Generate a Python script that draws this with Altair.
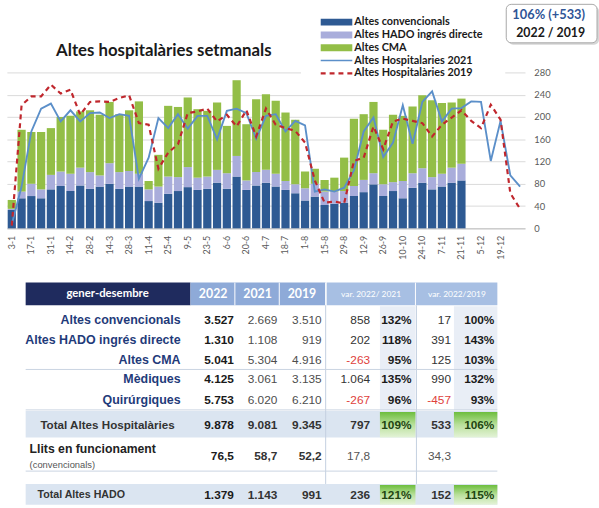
import altair as alt
import pandas as pd

# ---------------- data ----------------
weeks = ["3-1","10-1","17-1","24-1","31-1","7-2","14-2","21-2","28-2","7-3","14-3","21-3","28-3",
         "4-4","11-4","18-4","25-4","2-5","9-5","16-5","23-5","30-5","6-6","13-6","20-6","27-6",
         "4-7","11-7","18-7","25-7","1-8","8-8","15-8","22-8","29-8","5-9","12-9","19-9","26-9",
         "3-10","10-10","17-10","24-10","31-10","7-11","14-11","21-11","28-11","5-12","12-12",
         "19-12","26-12","2-1"]

conv = [33,54,58,54,70,76,67,77,71,75,80,71,75,75,49,46,62,67,74,69,71,82,71,93,69,77,82,75,69,63,
        50,57,42,44,46,58,65,79,58,67,54,73,82,70,75,82,86]
hado = [2,12,22,16,26,26,31,32,30,20,37,30,28,23,21,29,31,25,36,22,22,23,28,37,17,24,23,23,16,16,
        22,23,24,22,21,18,22,20,21,16,31,26,26,22,23,27,30]
cma = [16,111,93,103,84,98,104,101,111,109,110,104,109,130,15,57,127,126,125,123,118,121,85,136,101,
       131,136,131,123,116,30,27,21,25,60,121,118,128,98,121,117,120,131,138,127,117,117]

alt2021 = [7,75,174,215,224,192,212,192,207,208,198,205,202,89,127,198,180,205,179,202,202,160,211,
           215,207,161,202,205,174,193,185,66,70,66,73,104,174,199,128,154,221,152,227,246,192,215,
           216,228,227,121,193,95,75]
alt2019 = [5,221,237,237,258,242,249,204,227,228,227,234,239,189,186,107,136,151,207,210,215,192,204,
           183,212,165,215,186,180,175,154,86,46,48,45,121,127,183,142,192,197,193,189,165,186,199,
           212,193,180,222,195,63,35]

series_bar = ["Altes convencionals", "Altes HADO ingrés directe", "Altes CMA"]
line_names = ["Altes Hospitalaries 2021", "Altes Hospitalàries 2019"]
title_text = "Altes hospitalàries setmanals"
box_lines = ["106% (+533)", "2022 / 2019"]
y_ticks = [0, 40, 80, 120, 160, 200, 240, 280]

# table
header_cols = ["gener-desembre", "2022", "2021", "2019", "var. 2022/ 2021", "var. 2022/2019"]
row_labels = ["Altes convencionals", "Altes HADO ingrés directe", "Altes CMA", "Mèdiques",
              "Quirúrgiques", "Total Altes Hospitalàries", "Llits en funcionament", "Total Altes HADO"]
llits_sub = "(convencionals)"
v2022 = ["3.527", "1.310", "5.041", "4.125", "5.753", "9.878", "76,5", "1.379"]
v2021 = ["2.669", "1.108", "5.304", "3.061", "6.020", "9.081", "58,7", "1.143"]
v2019 = ["3.510", "919", "4.916", "3.135", "6.210", "9.345", "52,2", "991"]
d21 = ["858", "202", "-263", "1.064", "-267", "797", "17,8", "236"]
p21 = ["132%", "118%", "95%", "135%", "96%", "109%", "", "121%"]
d19 = ["17", "391", "125", "990", "-457", "533", "34,3", "152"]
p19 = ["100%", "143%", "103%", "132%", "93%", "106%", "", "115%"]

# ---------------- styles ----------------
C_DARK = "#2e5a93"
C_LIGHT = "#a9addb"
C_GREEN = "#93be47"
C_L21 = "#5b8fc9"
C_L19 = "#c0272d"
F_CHART = "Lato"
F_TAB = "Liberation Sans"
F_LAB = "Liberation Sans"

W, H = 525, 158

bars_df = pd.DataFrame([
    {"week": weeks[i], "serie": s, "value": v, "ord": k}
    for k, (s, vals) in enumerate(zip(series_bar, [conv, hado, cma]))
    for i, v in enumerate(vals)
])
lines_df = pd.DataFrame({"week": weeks, "a2021": alt2021, "a2019": alt2019})

xscale = alt.Scale(domain=weeks, paddingInner=0.16, paddingOuter=0.08)
yscale = alt.Scale(domain=[0, 280], nice=False)
xaxis = alt.Axis(values=weeks[0:51:2], labelAngle=270, labelFont=F_CHART, labelFontSize=9,
                 labelColor="#595959", domainColor="#bfbfbf", ticks=False, grid=False,
                 labelPadding=7, title=None)
yaxis = alt.Axis(orient="right", values=y_ticks, grid=True, gridColor="#d9d9d9", domain=False,
                 ticks=False, labelPadding=9, labelFont=F_CHART, labelFontSize=9.5,
                 labelColor="#595959", title=None)

X = alt.X("week:O", scale=xscale, axis=xaxis)

bars = alt.Chart(bars_df).mark_bar().encode(
    x=X,
    y=alt.Y("value:Q", stack="zero", scale=yscale, axis=yaxis),
    color=alt.Color("serie:N", scale=alt.Scale(domain=series_bar, range=[C_DARK, C_LIGHT, C_GREEN]), legend=None),
    order=alt.Order("ord:Q", sort="ascending"),
)
line21 = alt.Chart(lines_df).mark_line(color=C_L21, strokeWidth=1.9).encode(
    x=X, y=alt.Y("a2021:Q", scale=yscale, axis=yaxis))
line19 = alt.Chart(lines_df).mark_line(color=C_L19, strokeWidth=2.2, strokeDash=[5, 4]).encode(
    x=X, y=alt.Y("a2019:Q", scale=yscale, axis=yaxis))

one = alt.InlineData(values=[{"a": 1}])
deco = []
# title
deco.append(alt.Chart(one).mark_text(font=F_CHART, fontSize=17, fontWeight="bold", color="#1a1a1a",
                                     align="center", baseline="middle").encode(
    x=alt.value(159), y=alt.value(-22), text=alt.value(title_text)))
# legend background
deco.append(alt.Chart(one).mark_rect(color="white").encode(
    x=alt.value(298), x2=alt.value(505), y=alt.value(-64), y2=alt.value(9)))
leg_y = [-51, -38, -25, -12, 1]
leg_cols = [C_DARK, C_LIGHT, C_GREEN]
for i, name in enumerate(series_bar + line_names):
    yy = leg_y[i]
    if i < 3:
        deco.append(alt.Chart(one).mark_rect(color=leg_cols[i]).encode(
            x=alt.value(318), x2=alt.value(350), y=alt.value(yy - 3.5), y2=alt.value(yy + 3.5)))
    elif i == 3:
        deco.append(alt.Chart(one).mark_rule(color=C_L21, strokeWidth=1.5).encode(
            x=alt.value(318), x2=alt.value(350), y=alt.value(yy)))
    else:
        deco.append(alt.Chart(one).mark_rule(color=C_L19, strokeWidth=2.2, strokeDash=[5, 4]).encode(
            x=alt.value(318), x2=alt.value(350), y=alt.value(yy)))
    deco.append(alt.Chart(one).mark_text(font=F_CHART, fontSize=11, fontWeight="bold", color="#1a1a1a",
                                         align="left", baseline="middle").encode(
        x=alt.value(352), y=alt.value(yy), text=alt.value(name)))
# summary box
deco.append(alt.Chart(one).mark_rect(color="#d6d6d6", cornerRadius=5).encode(
    x=alt.value(508), x2=alt.value(600), y=alt.value(-67), y2=alt.value(-28)))
deco.append(alt.Chart(one).mark_rect(fill="white", stroke="#a8a8a8", strokeWidth=1, cornerRadius=5).encode(
    x=alt.value(506), x2=alt.value(598), y=alt.value(-69), y2=alt.value(-30)))
deco.append(alt.Chart(one).mark_text(font=F_CHART, fontSize=13, fontWeight="bold", color="#2f5597",
                                     align="center", baseline="middle").encode(
    x=alt.value(549), y=alt.value(-58), text=alt.value(box_lines[0])))
deco.append(alt.Chart(one).mark_text(font=F_CHART, fontSize=12.5, fontWeight="bold", color="#1a1a1a",
                                     align="center", baseline="middle").encode(
    x=alt.value(551), y=alt.value(-40), text=alt.value(box_lines[1])))

top = alt.layer(bars, line21, line19, *deco).properties(width=W, height=H)

# ---------------- table ----------------
TX0, TX1 = 7, 507
TY0, TY1 = 283, 508
tx = alt.Scale(domain=[TX0, TX1], nice=False, zero=False)
ty = alt.Scale(domain=[TY0, TY1], nice=False, zero=False, reverse=True)

# layout grid (pixels)
col_right = [237, 281, 326, 375, 417, 457, 501]
row_y = [321, 341, 361, 381, 402, 427, 459, 498]
hdr_center = [109, 216, 261, 306, 376, 463]

def rects(rows):
    return pd.DataFrame(rows, columns=["x", "x2", "y", "y2", "fill"])

bg = rects([
    (26, 193, 283, 306, "#1f2b5e"),
    (193, 330, 283, 306, "#8eaad8"),
    (331, 504, 283, 306, "#a7bfe3"),
    (385, 421, 307, 412, "#e9eef6"),
    (460, 504, 307, 412, "#e9eef6"),
    (26, 504, 413, 440, "#dbe5f1"),
    (26, 504, 487, 508, "#dbe5f1"),
])
bg_layer = alt.Chart(bg).mark_rect().encode(
    x=alt.X("x:Q", scale=tx, axis=None), x2="x2", y=alt.Y("y:Q", scale=ty, axis=None), y2="y2",
    fill=alt.Fill("fill:N", scale=None))

green = rects([
    (385, 421, 414, 440, ""), (460, 504, 414, 440, ""),
    (385, 421, 488, 508, ""), (460, 504, 488, 508, ""),
])
grad = alt.LinearGradient(gradient="linear", x1=0, x2=0, y1=0, y2=1,
                          stops=[alt.GradientStop(color="#6cbd3c", offset=0),
                                 alt.GradientStop(color="#b9e09b", offset=0.5),
                                 alt.GradientStop(color="#e4f3d8", offset=1)])
green_layer = alt.Chart(green).mark_rect(fill=grad).encode(
    x=alt.X("x:Q", scale=tx, axis=None), x2="x2", y=alt.Y("y:Q", scale=ty, axis=None), y2="y2")

rules = rects([
    (238, 238, 283, 306, "white"), (283, 283, 283, 306, "white"),
    (330, 330, 283, 306, "white"), (421, 421, 283, 306, "white"),
    (330, 330, 306, 487, "#c3cfe0"), (422, 422, 306, 487, "#c3cfe0"),
    (26, 504, 371, 371, "#c9d3e2"), (26, 504, 474, 474, "#c9d3e2"),
    (26, 504, 412, 412, "#c9d3e2"),
])
rule_layer = alt.Chart(rules).mark_rule(strokeWidth=1).encode(
    x=alt.X("x:Q", scale=tx, axis=None), x2="x2", y=alt.Y("y:Q", scale=ty, axis=None), y2="y2",
    color=alt.Color("fill:N", scale=None))

cells = []
# header
cells.append((hdr_center[0], 294.5, header_cols[0], "center", "bold", "white", 11.5, F_CHART))
for j in range(1, 4):
    cells.append((hdr_center[j], 294.5, header_cols[j], "center", "bold", "white", 12.5, F_CHART))
for j in range(4, 6):
    cells.append((hdr_center[j], 294.5, header_cols[j], "center", "normal", "white", 8.5, F_CHART))
# row labels
for r in range(5):
    cells.append((183, row_y[r], row_labels[r], "right", "bold", "#1f3b7a", 12.6, F_LAB))
cells.append((109, row_y[5], row_labels[5], "center", "bold", "#333333", 11.8, F_LAB))
cells.append((30, 452, row_labels[6], "left", "bold", "#222222", 12.4, F_LAB))
cells.append((30, 468, llits_sub, "left", "normal", "#555555", 9.5, F_LAB))
cells.append((38, row_y[7], row_labels[7], "left", "bold", "#333333", 10.8, F_LAB))
# numbers
for r in range(8):
    total = r in (5, 7)
    yy = row_y[r]
    cells.append((col_right[0], yy, v2022[r], "right", "bold", "#1a1a1a", 12, F_TAB))
    for j, arr in ((1, v2021), (2, v2019)):
        if r < 5:
            cells.append((col_right[j], yy, arr[r], "right", "normal", "#4d4d4d", 12, F_TAB))
        else:
            cells.append((col_right[j], yy, arr[r], "right", "bold", "#333333", 12, F_TAB))
    for j, arr in ((3, d21), (5, d19)):
        s = arr[r]
        col = "#e0413c" if s.startswith("-") else ("#555555" if r == 6 else "#333333")
        cells.append((col_right[j], yy, s, "right", "bold" if total else "normal", col, 12, F_TAB))
    for j, arr in ((4, p21), (6, p19)):
        if arr[r]:
            cells.append((col_right[j], yy, arr[r], "right", "bold",
                          "#1f4512" if total else "#1a1a1a", 12, F_TAB))

cells_df = pd.DataFrame(cells, columns=["x", "y", "t", "align", "weight", "color", "size", "font"])
text_layers = []
for (al, wt, fn), g in cells_df.groupby(["align", "weight", "font"]):
    text_layers.append(alt.Chart(g).mark_text(align=al, fontWeight=wt, font=fn, baseline="middle").encode(
        x=alt.X("x:Q", scale=tx, axis=None), y=alt.Y("y:Q", scale=ty, axis=None),
        text="t:N", color=alt.Color("color:N", scale=None), size=alt.Size("size:Q", scale=None)))

table = alt.layer(bg_layer, green_layer, rule_layer, *text_layers).properties(
    width=TX1 - TX0, height=TY1 - TY0)

chart = alt.vconcat(top, table, spacing=22).properties(
    padding={"left": 7, "top": 0, "right": 0, "bottom": 0}
).configure_view(stroke=None)

chart.save("out.html", embed_options={"renderer": "svg", "actions": False})
